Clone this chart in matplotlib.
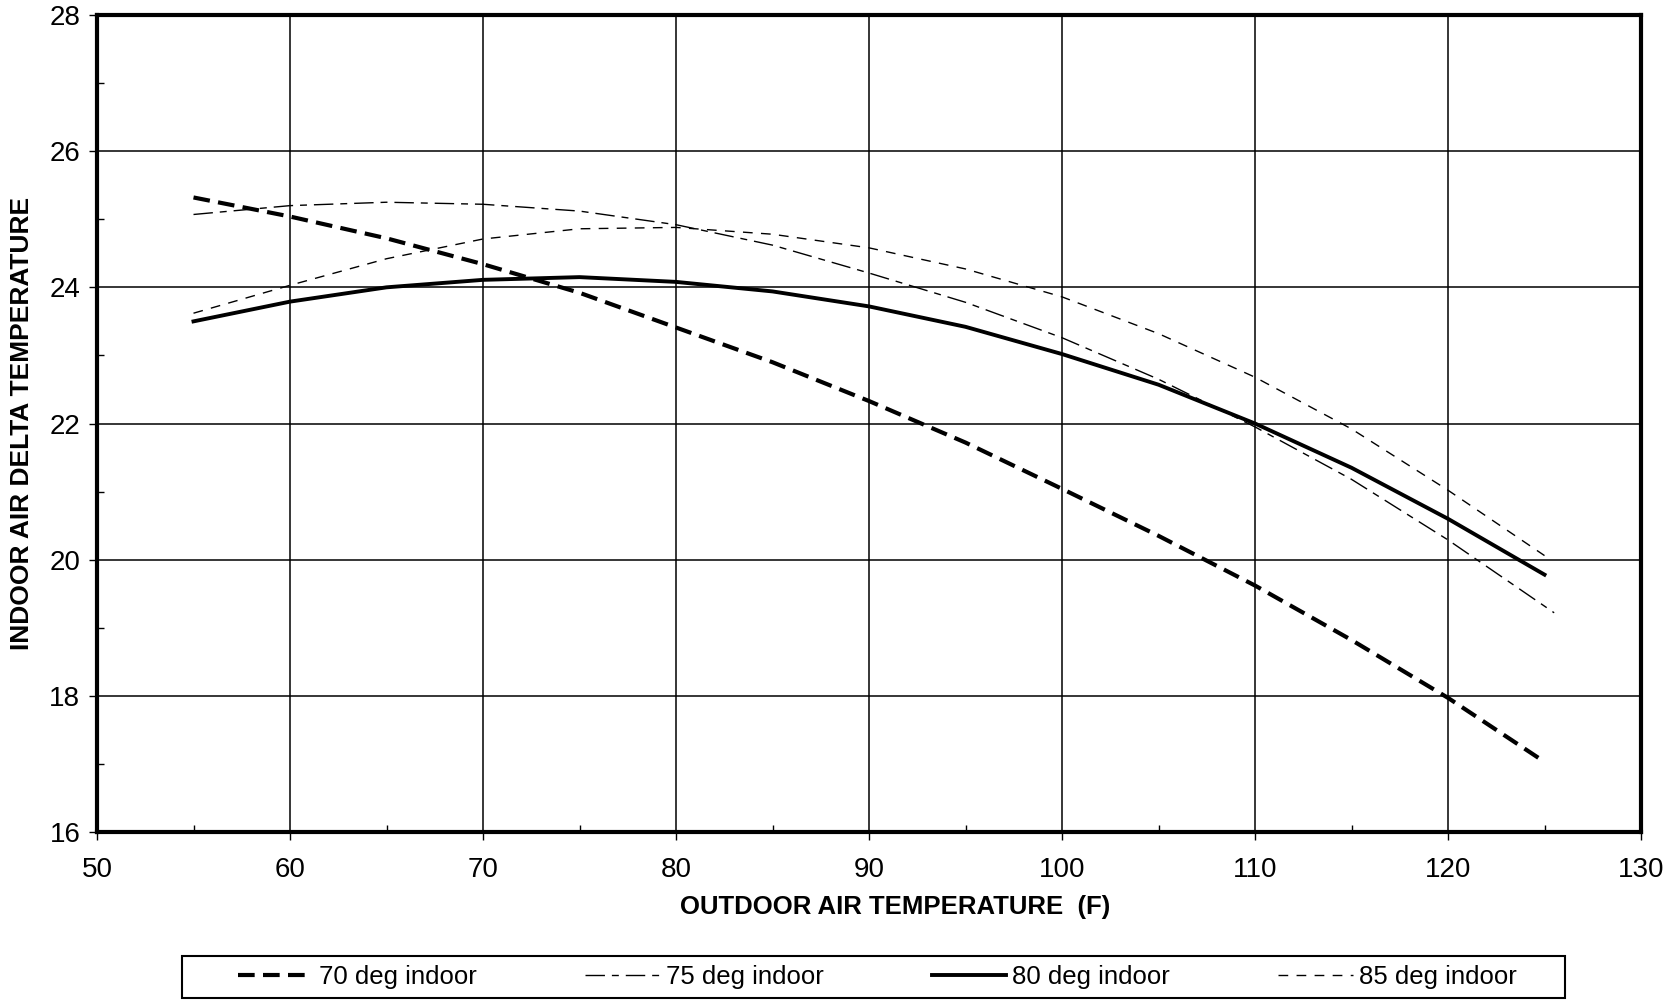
import matplotlib
matplotlib.use("Agg")
import matplotlib.pyplot as plt
from matplotlib.ticker import MultipleLocator
from matplotlib.patches import Rectangle

plt.rcParams['font.family'] = ['Liberation Sans', 'DejaVu Sans']

# Outdoor air temperature (F)
outdoor = [55, 60, 65, 70, 75, 80, 85, 90, 95, 100, 105, 110, 115, 120, 125]
outdoor_75 = [55, 60, 65, 70, 75, 80, 85, 90, 95, 100, 105, 110, 115, 120, 125.5]

# Indoor air delta temperature for each indoor set point
delta_70 = [25.32, 25.04, 24.72, 24.34, 23.92, 23.41, 22.90, 22.33, 21.72, 21.04,
            20.35, 19.62, 18.82, 17.97, 17.03]
delta_75 = [25.07, 25.20, 25.25, 25.22, 25.12, 24.92, 24.62, 24.21, 23.78, 23.26,
            22.65, 21.95, 21.18, 20.29, 19.22]
delta_80 = [23.50, 23.79, 24.00, 24.11, 24.15, 24.08, 23.94, 23.72, 23.42, 23.02,
            22.57, 22.00, 21.35, 20.60, 19.78]
delta_85 = [23.62, 24.03, 24.42, 24.71, 24.86, 24.88, 24.78, 24.58, 24.27, 23.86,
            23.32, 22.68, 21.92, 21.02, 20.06]

series_labels = ["70 deg indoor", "75 deg indoor", "80 deg indoor", "85 deg indoor"]
x_ticks = [50, 60, 70, 80, 90, 100, 110, 120, 130]
y_ticks = [16, 18, 20, 22, 24, 26, 28]

W, H = 1679, 1000
fig = plt.figure(figsize=(W / 100, H / 100), dpi=100)
ax = fig.add_axes([97 / W, 1 - 832 / H, (1641 - 97) / W, (832 - 15) / H])

h70, = ax.plot(outdoor, delta_70, color='black', lw=3.0, ls=(0, (4.0, 2.0)),
               solid_capstyle='butt', label=series_labels[0], zorder=3)
h75, = ax.plot(outdoor_75, delta_75, color='black', lw=1.0,
               ls=(0, (14, 5, 5, 5)), label=series_labels[1], zorder=3)
h80, = ax.plot(outdoor, delta_80, color='black', lw=2.8, ls='-',
               label=series_labels[2], zorder=3)
h85, = ax.plot(outdoor, delta_85, color='black', lw=1.0, ls=(0, (7, 6)),
               label=series_labels[3], zorder=3)

ax.set_xlim(50, 130)
ax.set_ylim(16, 28)
ax.set_xticks(x_ticks)
ax.set_yticks(y_ticks)
ax.xaxis.set_minor_locator(MultipleLocator(5))
ax.yaxis.set_minor_locator(MultipleLocator(1))
ax.grid(True, which='major', color='black', lw=1.1, zorder=1)
ax.tick_params(which='major', direction='out', length=6, width=1.0,
               labelsize=20, colors='black')
ax.tick_params(axis='x', which='major', pad=12)
ax.tick_params(axis='y', which='major', pad=6)
ax.tick_params(which='minor', direction='in', length=5, width=1.0)
for s in ax.spines.values():
    s.set_linewidth(3.0)
    s.set_color('black')

ax.set_xlabel("OUTDOOR AIR TEMPERATURE  (F)", fontsize=18.5, fontweight='bold')
ax.xaxis.set_label_coords(0.517, -0.077)
ax.set_ylabel("INDOOR AIR DELTA TEMPERATURE", fontsize=19, fontweight='bold')
ax.yaxis.set_label_coords(-0.041, 0.5)

# Legend box drawn as its own frame, entries spread inside it
fig.patches.append(Rectangle((182 / W, 2 / H), (1565 - 182) / W, (998 - 956) / H,
                             transform=fig.transFigure, facecolor='white',
                             edgecolor='black', lw=1.5, zorder=0))
leg = fig.legend(handles=[h70, h75, h80, h85], labels=series_labels,
                 loc='center left', ncol=4, mode='expand',
                 bbox_to_anchor=(238 / W, 23 / H, (1517 - 238) / W, 0),
                 frameon=False, handlelength=2.9, handletextpad=0.25,
                 borderaxespad=0, borderpad=0,
                 prop={'family': ['Liberation Sans'], 'size': 18.5})

fig.savefig("out.png", dpi=100, facecolor='white')
